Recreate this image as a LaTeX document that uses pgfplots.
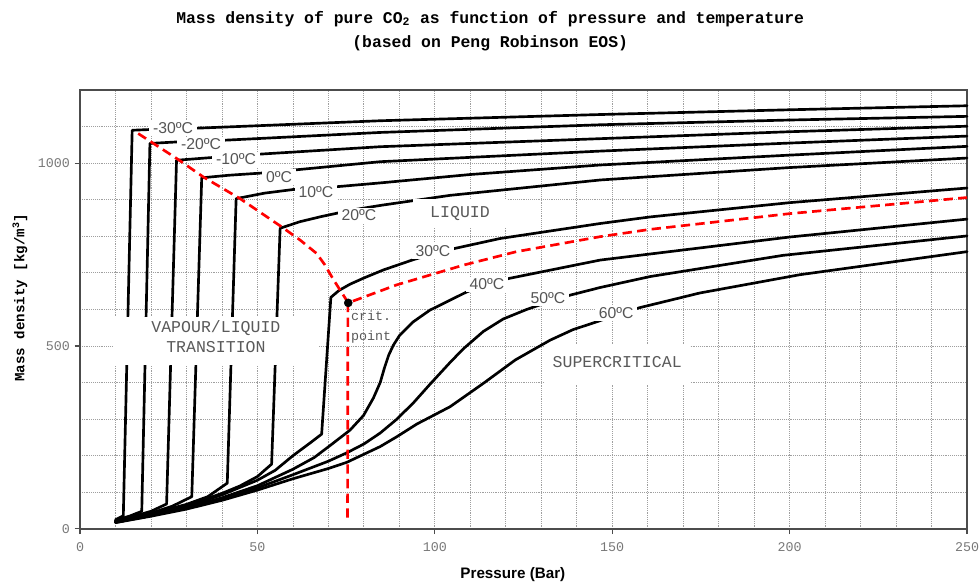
\documentclass[border=0pt]{standalone}
\usepackage{fontspec}
\setmainfont{Liberation Sans}
\setmonofont{Liberation Mono}
\usepackage{pgfplots}
\pgfplotsset{compat=1.18}
\usetikzlibrary{calc}

\definecolor{tlab}{RGB}{85,85,85}
\definecolor{ticklab}{RGB}{120,120,120}
\definecolor{regionlab}{RGB}{90,90,90}
\definecolor{satred}{RGB}{255,0,0}

\pgfplotsset{
  iso/.style={black, line width=2pt, line join=round, line cap=round},
}
\tikzset{
  templab/.style={font=\fontsize{11.8}{13}\selectfont, text=tlab, fill=white, inner xsep=3pt, inner ysep=1.5pt},
  regionlab/.style={font=\ttfamily\fontsize{12.4}{15}\selectfont, text=regionlab, align=center},
  whitebox/.style={fill=white, draw=none, inner sep=0pt},
}

\begin{document}
\begin{tikzpicture}
\begin{axis}[
    scale only axis, width=665pt, height=329pt,
    xmin=0, xmax=250, ymin=0, ymax=1200,
    xtick={0,50,...,250}, ytick={0,500,1000},
    minor xtick={10,20,...,240}, minor ytick={100,200,...,1100},
    tick pos=left,
    grid=both,
    grid style={densely dotted, gray!75, line width=0.6pt},
    major tick length=4pt, minor tick length=0pt, tick align=outside,
    tick style={gray!60!black, line width=0.8pt},
    axis line style={gray!60!black, line width=1pt},
    tick label style={font=\ttfamily\fontsize{10}{12}\selectfont, text=ticklab},
    xticklabel style={yshift=-3pt},
    /pgf/number format/assume math mode=true,
    /pgf/number format/1000 sep={},
    xlabel={Pressure (Bar)},
    xlabel style={font=\bfseries\fontsize{11.4}{13}\selectfont, at={(axis description cs:0.488,0)}, anchor=center, yshift=-34.5pt},
    ylabel={Mass density [kg/m\textsuperscript{3}]},
    ylabel style={font=\ttfamily\bfseries\fontsize{10.6}{12}\selectfont, at={(axis description cs:-0.0677,0.527)}, anchor=center},
    clip=false,
  ]

  % isotherms, -30 to 60 C
  \addplot[iso] coordinates {(10,25) (12.2,36) (14.7,1090) (19.7,1092) (26.8,1094) (33.8,1096) (84.6,1116) (146.6,1133) (200,1146) (250,1157)};
  \addplot[iso] coordinates {(10,23.5) (14,35) (17.4,48) (19.7,1054) (27.2,1058) (34,1060) (41.3,1063) (84.6,1084) (146.6,1105) (200,1118) (250,1128)};
  \addplot[iso] coordinates {(10,22) (15,34) (20,48) (24.4,68) (27.2,1008) (36.6,1015) (44,1020) (51.2,1025) (84.6,1045) (146.6,1067) (200,1086) (250,1101)};
  \addplot[iso] coordinates {(10,21) (20,43) (26,62) (31.5,88) (34.3,960) (42,967) (51.2,973) (61.1,982) (84.6,1004) (146.6,1033) (200,1055) (250,1074)};
  \addplot[iso] coordinates {(10,20) (20,41) (30,67) (36,88) (41.5,125) (44,903) (52,918) (60.1,928) (66.5,932) (72.8,936) (84.6,946) (110,969) (146.6,995) (200,1022) (250,1046)};
  \addplot[iso] coordinates {(10,19.5) (20,40) (30,64) (40,97) (45,117) (50,143) (54,177) (56.4,822) (62,840) (68,854) (73.3,865) (78.6,875) (85,885) (104.3,912) (146.6,954) (200,988) (250,1014)};
  \addplot[iso] coordinates {(10,18.5) (20,38.5) (30,61) (40,93) (50,133) (55,160) (60,200) (65,236) (68.1,259) (70.7,633) (73,652) (76.1,669) (80,686) (85.5,708) (93.9,736) (99.5,752) (105.7,767) (118.4,794) (146.6,835) (160.7,853) (200,892) (250,932)};
  \addplot[iso] coordinates {(10,18) (20,37) (30,58) (40,85) (50,118) (60,163) (66,195) (70.5,228) (76.1,270) (79.9,310) (82.7,358) (84.6,400) (85.8,440) (87,475) (88.3,502) (90,528) (93.9,566) (98.6,598) (103.4,621) (109,648) (114.7,668) (121,685) (146.6,735) (200,798) (250,847)};
  \addplot[iso] coordinates {(10,17.5) (20,36) (30,56) (40,81) (50,112) (60,148) (70,185) (75.2,208) (80,232) (84.6,262) (89.3,300) (94,345) (98.6,395) (104.3,455) (108,492) (113.7,540) (119.3,574) (125.9,600) (131.9,620) (138.1,639) (146.6,660) (160.7,690) (198.2,748) (250,801)};
  \addplot[iso] coordinates {(10,17) (20,34.5) (30,54) (40,78) (50,106) (60,137) (70,165) (75.2,182) (84.6,225) (89.3,252) (95,287) (104.3,334) (113.7,398) (122.7,462) (132.5,516) (139,545) (145.6,566) (151.1,585) (157.8,605) (174.7,645) (202.9,695) (250,758)};

  % saturation line and critical isochore
  \addplot[satred, line width=2pt, dash pattern=on 7pt off 4pt] coordinates {(16.4,1081) (27.2,1013) (34.8,962) (45.1,903) (56.8,826) (62,790) (66.7,753) (69,722) (71.4,682) (73.5,650) (75.6,618) (89.2,667) (108,721) (123,758) (146.6,799) (160.7,819) (200,862) (250,906)};
  \addplot[satred, line width=2pt, dash pattern=on 7pt off 4pt] coordinates {(75.5,618) (75.4,20)};
  \addplot[only marks, mark=*, mark size=3pt, black] coordinates {(75.6,618)};

  % temperature labels
  \node[templab] at (axis cs:26.2,1096) {-30ºC};
  \node[templab] at (axis cs:34.1,1052) {-20ºC};
  \node[templab] at (axis cs:44.0,1011) {-10ºC};
  \node[templab] at (axis cs:56.1,962) {0ºC};
  \node[templab] at (axis cs:66.5,921) {10ºC};
  \node[templab] at (axis cs:78.6,858) {20ºC};
  \node[templab] at (axis cs:99.5,760) {30ºC};
  \node[templab] at (axis cs:114.7,669) {40ºC};
  \node[templab] at (axis cs:131.9,631) {50ºC};
  \node[templab] at (axis cs:151.1,590) {60ºC};

  % region labels
  \node[whitebox, minimum width=70pt, minimum height=22pt] at (axis cs:107.1,863) {};
  \node[regionlab] at (axis cs:107.1,863) {LIQUID};
  \node[whitebox, minimum width=154pt, minimum height=36pt] at (axis cs:38.2,514) {};
  \node[regionlab] at (axis cs:38.3,525) {VAPOUR/LIQUID\\TRANSITION};
  \node[whitebox, minimum width=109pt, minimum height=30pt] at (axis cs:151.5,448) {};
  \node[regionlab] at (axis cs:151.4,456) {SUPERCRITICAL};
  \node[font=\ttfamily\fontsize{10}{15}\selectfont, text=regionlab, align=left, anchor=west, inner sep=0pt] at (axis cs:76.3,552) {crit.\\point};

  % title
  \node[anchor=base, font=\ttfamily\bfseries\fontsize{12.3}{14}\selectfont] at ($(axis cs:115.6,1200)+(0,50pt)$) {Mass density of pure CO\textsubscript{2} as function of pressure and temperature};
  \node[anchor=base, font=\ttfamily\bfseries\fontsize{12.3}{14}\selectfont] at ($(axis cs:115.6,1200)+(0,32pt)$) {(based on Peng Robinson EOS)};
\end{axis}
\pgfresetboundingbox
\path ($(current axis.south west)+(-60pt,-40.5pt)$) rectangle ($(current axis.north east)+(9pt,67.5pt)$);
\end{tikzpicture}
\end{document}
